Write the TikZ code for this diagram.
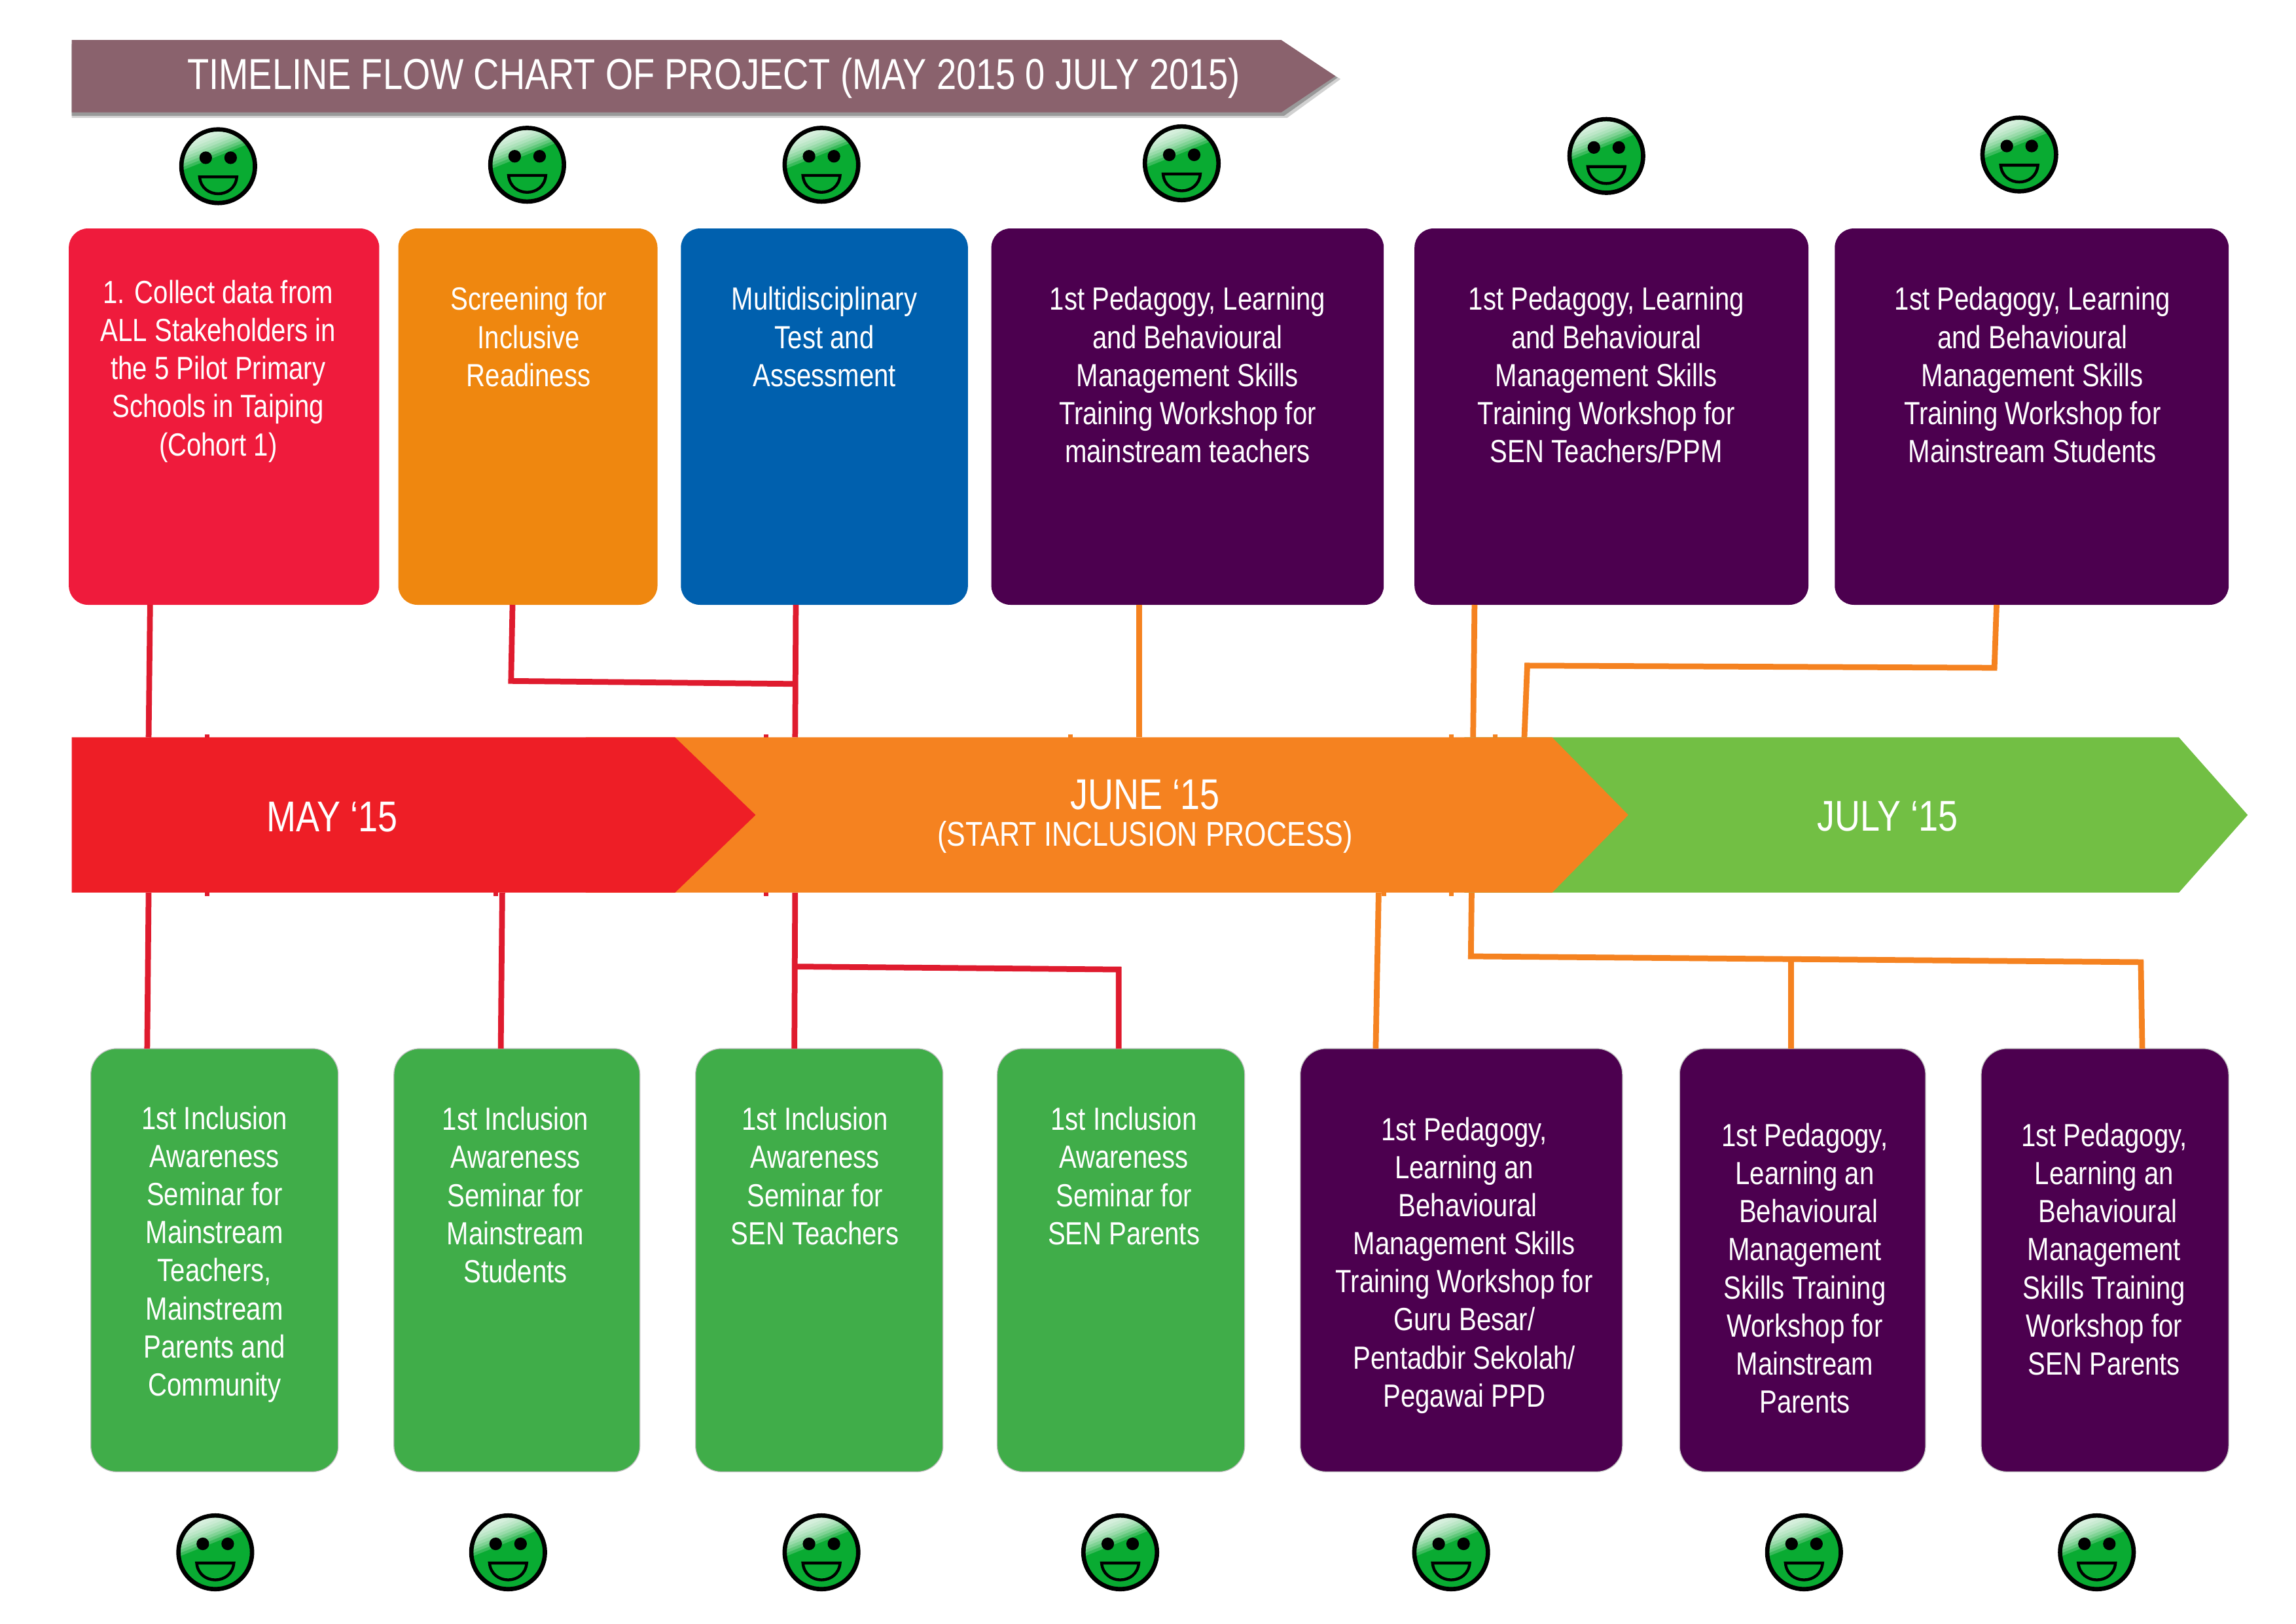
\documentclass[tikz,border=0pt]{standalone}
\usepackage{fontspec}
\setmainfont[FakeStretch=0.82]{Liberation Sans}
\usetikzlibrary{calc}
\definecolor{titlec}{HTML}{8A626D}
\definecolor{barred}{HTML}{EE1E26}
\definecolor{barorange}{HTML}{F58220}
\definecolor{bargreen}{HTML}{72BF44}
\definecolor{boxred}{HTML}{EF1B3C}
\definecolor{boxorange}{HTML}{EF870F}
\definecolor{boxblue}{HTML}{0060AE}
\definecolor{boxpurple}{HTML}{4C004F}
\definecolor{boxgreen}{HTML}{40AD49}
\definecolor{linered}{HTML}{DF1B2E}
\definecolor{smile}{HTML}{09AB32}
\tikzset{
  topbox/.style={rectangle,rounded corners=7pt,inner sep=0pt,outer sep=0pt},
  botbox/.style={rectangle,rounded corners=9.5pt,inner sep=0pt,outer sep=0pt,draw=black!25,line width=0.3pt},
  boxtext/.style={text=white,align=center,inner sep=0pt,font=\fontsize{11.75pt}{13.96pt}\selectfont},
  bartext/.style={text=white,align=center,inner sep=0pt,font=\fontsize{15.8pt}{19pt}\selectfont},
  subtext/.style={text=white,align=center,inner sep=0pt,font=\fontsize{12.6pt}{15pt}\selectfont},
  titletext/.style={text=white,inner sep=0pt,font=\fontsize{15.9pt}{20pt}\selectfont},
  redline/.style={draw=linered,line width=2.1pt},
  orangeline/.style={draw=barorange,line width=2.1pt},
  redtick/.style={draw=linered,line width=1.7pt},
  orangetick/.style={draw=barorange,line width=1.7pt},
  face/.style={circle,draw=black,fill=smile,line width=1.6pt,minimum size=27pt,inner sep=0pt,outer sep=0pt},
  faceline/.style={draw=black,line width=1.05pt},
}
\newcommand{\rbox}[7]{% style name x1 y1 x2 y2 colour
  \node[#1,fill=#7,minimum width={(#5-#3)*0.537pt},minimum height={(#6-#4)*0.537pt}] (#2) at ({(#3+#5)/2},{(#4+#6)/2}) {};}
\newcommand{\smiley}[3]{%
  \node[face] (#1) at (#2,#3) {};
  \begin{scope}[shift={(#2,#3)}]
    \begin{scope}
      \clip (0,0) circle [radius=23.6];
      \foreach \d in {0,2,...,16} {
        \fill[white,opacity=0.2] ({-40-0.375*\d},{9-0.927*\d}) -- ({40-0.375*\d},{-23-0.927*\d}) -- (60,-80) -- (-80,-80) -- cycle;
      }
    \end{scope}
    \fill (-8.5,-5.8) ellipse [x radius=4.3,y radius=4.3];
    \fill (8.5,-5.8) ellipse [x radius=4.3,y radius=4.3];
    \draw[faceline] (-12.7,7.3) -- (12.7,7.3) .. controls (12,15) and (6,18.8) .. (0,18.8) .. controls (-6,18.8) and (-12,15) .. (-12.7,7.3) -- cycle;
  \end{scope}}
\begin{document}
\begin{tikzpicture}[x=0.537pt,y=-0.537pt]
\useasboundingbox (0,0) rectangle (1568,1108.6);
\fill[white] (0,0) rectangle (1568,1108.6);

% title arrow
\fill[black!18] (49,31) -- (879,31) -- (915.5,54) -- (879,80.5) -- (49,80.5) -- cycle;
\fill[black!40] (49,30) -- (877,30) -- (913.5,53) -- (877,79) -- (49,79) -- cycle;
\fill[titlec] (49,27.3) -- (875,27.3) -- (912,52) -- (875,76.7) -- (49,76.7) -- cycle;
\node[titletext] (title) at (487.5,53.5) {TIMELINE FLOW CHART OF PROJECT (MAY 2015 0 JULY 2015)};

% top boxes
\rbox{topbox}{a}{47}{156}{259}{413}{boxred}
\rbox{topbox}{b}{272}{156}{449}{413}{boxorange}
\rbox{topbox}{c}{465}{156}{661}{413}{boxblue}
\rbox{topbox}{d}{677}{156}{945}{413}{boxpurple}
\rbox{topbox}{e}{966}{156}{1235}{413}{boxpurple}
\rbox{topbox}{f}{1253}{156}{1522}{413}{boxpurple}
% bottom boxes
\rbox{botbox}{g}{62}{716}{231}{1005}{boxgreen}
\rbox{botbox}{h}{269}{716}{437}{1005}{boxgreen}
\rbox{botbox}{i}{475}{716}{644}{1005}{boxgreen}
\rbox{botbox}{j}{681}{716}{850}{1005}{boxgreen}
\rbox{botbox}{k}{888}{716}{1108}{1005}{boxpurple}
\rbox{botbox}{l}{1147}{716}{1315}{1005}{boxpurple}
\rbox{botbox}{m}{1353}{716}{1522}{1005}{boxpurple}

\coordinate (bartop) at (0,503.5);
\coordinate (barbot) at (0,609.5);

% connectors (under the bars)
\draw[redline] (a.south -| 102.5,0) -- (bartop -| 101.5,0);
\coordinate (j1) at (543.5,467);
\draw[redline] (b.south -| 350,0) -- (349,465) -- (j1);
\draw[redline] (c.south -| 543.5,0) -- (bartop -| 543,0);
\draw[orangeline] (d.south -| 778,0) -- (bartop -| 778,0);
\draw[orangeline] (e.south -| 1007,0) -- (bartop -| 1006,0);
\draw[orangeline] (f.south -| 1363.5,0) -- (1362,456) -- (1043,454.5) -- (bartop -| 1041,0);
\draw[redline] (barbot -| 101.5,0) -- (g.north -| 100.5,0);
\draw[redline] (barbot -| 343,0) -- (h.north -| 342,0);
\draw[redline] (barbot -| 543,0) -- (i.north -| 542.5,0);
\coordinate (j2) at (543,660);
\draw[redline] (j2) -- (764,662) -- (j.north -| 764,0);
\draw[orangeline] (barbot -| 941.5,0) -- (k.north -| 939.5,0);
\coordinate (j3) at (1223,655);
\draw[orangeline] (barbot -| 1005,0) -- (1004.5,653) -- (1462,657) -- (m.north -| 1463,0);
\draw[orangeline] (j3) -- (l.north -| 1223,0);

% small stubs at the bar edges
\draw[redtick] (141.4,501.3) -- (141.4,505);
\draw[redtick] (523,501.3) -- (523,505);
\draw[orangetick] (731,501.3) -- (731,505);
\draw[orangetick] (991,501.3) -- (991,505);
\draw[orangetick] (1021,501.3) -- (1021,505);
\draw[redtick] (141.4,608) -- (141.4,611.8);
\draw[redtick] (338.6,608) -- (338.6,611.8);
\draw[redtick] (523,608) -- (523,611.8);
\draw[orangetick] (945,608) -- (945,611.8);
\draw[orangetick] (991,608) -- (991,611.8);

% timeline bars
\fill[bargreen] (1000,503.5) -- (1488,503.5) -- (1535,556.5) -- (1488,609.5) -- (1000,609.5) -- cycle;
\fill[barorange] (400,503.5) -- (1060,503.5) -- (1112,556.5) -- (1060,609.5) -- (400,609.5) -- cycle;
\fill[barred] (49,503.5) -- (461,503.5) -- (516,556.5) -- (461,609.5) -- (49,609.5) -- cycle;
\node[bartext] (may) at (227,558) {MAY ‘15};
\node[bartext] (june) at (782,542.5) {JUNE ‘15};
\node[subtext] (process) at (782,571.5) {(START INCLUSION PROCESS)};
\node[bartext] (july) at (1289,557.5) {JULY ‘15};

% box texts
\node[boxtext] (ta) at (149,253.5) {1. Collect data from\\ALL Stakeholders in\\the 5 Pilot Primary\\Schools in Taiping\\(Cohort 1)};
\node[boxtext] (tb) at (361,230) {Screening for\\Inclusive\\Readiness};
\node[boxtext] (tc) at (563,230) {Multidisciplinary\\Test and\\Assessment};
\node[boxtext] (td) at (811,256) {1st Pedagogy, Learning\\and Behavioural\\Management Skills\\Training Workshop for\\mainstream teachers};
\node[boxtext] (te) at (1097,256) {1st Pedagogy, Learning\\and Behavioural\\Management Skills\\Training Workshop for\\SEN Teachers/PPM};
\node[boxtext] (tf) at (1388,256) {1st Pedagogy, Learning\\and Behavioural\\Management Skills\\Training Workshop for\\Mainstream Students};
\node[boxtext] (tg) at (146.5,856.5) {1st Inclusion\\Awareness\\Seminar for\\Mainstream\\Teachers,\\Mainstream\\Parents and\\Community};
\node[boxtext] (th) at (352,816) {1st Inclusion\\Awareness\\Seminar for\\Mainstream\\Students};
\node[boxtext] (ti) at (556.5,803) {1st Inclusion\\Awareness\\Seminar for\\SEN Teachers};
\node[boxtext] (tj) at (767.5,803) {1st Inclusion\\Awareness\\Seminar for\\SEN Parents};
\node[boxtext] (tk) at (1000,864) {1st Pedagogy,\\Learning an\\\ Behavioural\\Management Skills\\Training Workshop for\\Guru Besar/\\Pentadbir Sekolah/\\Pegawai PPD};
\node[boxtext] (tl) at (1232.5,866) {1st Pedagogy,\\Learning an\\\ Behavioural\\Management\\Skills Training\\Workshop for\\Mainstream\\Parents};
\node[boxtext] (tm) at (1437,853) {1st Pedagogy,\\Learning an\\\ Behavioural\\Management\\Skills Training\\Workshop for\\SEN Parents};

% smileys
\smiley{s1}{149}{113.5}
\smiley{s2}{360}{112.5}
\smiley{s3}{561}{112.5}
\smiley{s4}{807}{111.5}
\smiley{s5}{1097}{106.5}
\smiley{s6}{1379}{105.5}
\smiley{s7}{147}{1060}
\smiley{s8}{347}{1060}
\smiley{s9}{561}{1060}
\smiley{s10}{765}{1060}
\smiley{s11}{991}{1060}
\smiley{s12}{1232}{1060}
\smiley{s13}{1432}{1060}
\end{tikzpicture}
\end{document}
